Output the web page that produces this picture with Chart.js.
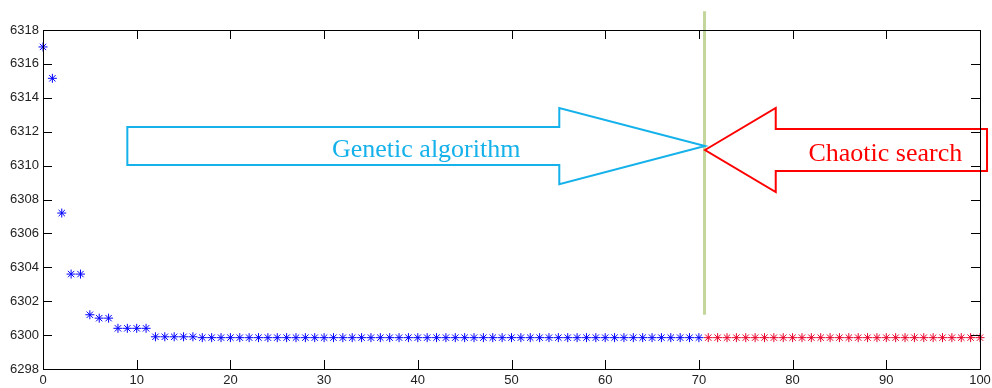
<!DOCTYPE html>
<html>
<head>
<meta charset="utf-8">
<script src="https://cdn.jsdelivr.net/npm/chart.js@4/dist/chart.umd.min.js"></script>
<style>
  html, body { margin: 0; padding: 0; background: #fff; }
  #wrap { width: 992px; height: 388px; position: relative; }
</style>
</head>
<body>
<div id="wrap"><canvas id="c"></canvas></div>
<script>
// Objective value per iteration: genetic algorithm stage (iterations 0..70)
const gaFitness = [
  6317.0, 6315.15, 6307.2, 6303.6, 6303.6, 6301.2, 6301.0, 6301.0, 6300.4, 6300.4,
  6300.4, 6300.4, 6299.9, 6299.9, 6299.9, 6299.9, 6299.9, 6299.85, 6299.85, 6299.85,
  6299.85, 6299.85, 6299.85, 6299.85, 6299.85, 6299.85, 6299.85, 6299.85, 6299.85, 6299.85,
  6299.85, 6299.85, 6299.85, 6299.85, 6299.85, 6299.85, 6299.85, 6299.85, 6299.85, 6299.85,
  6299.85, 6299.85, 6299.85, 6299.85, 6299.85, 6299.85, 6299.85, 6299.85, 6299.85, 6299.85,
  6299.85, 6299.85, 6299.85, 6299.85, 6299.85, 6299.85, 6299.85, 6299.85, 6299.85, 6299.85,
  6299.85, 6299.85, 6299.85, 6299.85, 6299.85, 6299.85, 6299.85, 6299.85, 6299.85, 6299.85,
  6299.85
];
const gaStart = 0;

// Chaotic search stage (iterations 71..100)
const csFitness = [
  6299.85, 6299.85, 6299.85, 6299.85, 6299.85, 6299.85, 6299.85, 6299.85, 6299.85, 6299.85,
  6299.85, 6299.85, 6299.85, 6299.85, 6299.85, 6299.85, 6299.85, 6299.85, 6299.85, 6299.85,
  6299.85, 6299.85, 6299.85, 6299.85, 6299.85, 6299.85, 6299.85, 6299.85, 6299.85, 6299.85
];
const csStart = 71;

// Axis ranges and tick steps
const xTicks = [0, 10, 20, 30, 40, 50, 60, 70, 80, 90, 100];
const yTicks = [6298, 6300, 6302, 6304, 6306, 6308, 6310, 6312, 6314, 6316, 6318];

// Stage switch marker and the two labelled arrows (data units)
const switchLine = { x: 70.6, yTop: 6319.1, yBottom: 6301.2 };
const gaArrow = {
  label: 'Genetic algorithm',
  points: [[9, 6312.28], [55.1, 6312.28], [55.1, 6313.4], [70.65, 6311.16],
           [55.1, 6308.9], [55.1, 6310.04], [9, 6310.04]],
  text: [40.9, 6310.5]
};
const csArrow = {
  label: 'Chaotic search',
  points: [[70.65, 6310.92], [78.2, 6313.4], [78.2, 6312.16], [100.75, 6312.16],
           [100.75, 6309.68], [78.2, 6309.68], [78.2, 6308.44]],
  text: [89.9, 6310.27]
};

const toPoints = (arr, start) => arr.map((v, i) => ({ x: start + i, y: v }));

const overlay = {
  id: 'overlay',
  beforeDatasetsDraw(chart) {
    const { ctx, scales: { x, y } } = chart;
    ctx.save();
    // stage switch line
    ctx.strokeStyle = '#c3d69b';
    ctx.lineWidth = 3;
    ctx.beginPath();
    const sx = x.getPixelForValue(switchLine.x);
    ctx.moveTo(sx, y.getPixelForValue(switchLine.yTop));
    ctx.lineTo(sx, y.getPixelForValue(switchLine.yBottom));
    ctx.stroke();

    const drawArrow = (a, color) => {
      ctx.strokeStyle = color;
      ctx.lineWidth = 2;
      ctx.lineJoin = 'miter';
      ctx.beginPath();
      a.points.forEach(([px, py], i) => {
        const X = x.getPixelForValue(px), Y = y.getPixelForValue(py);
        if (i === 0) ctx.moveTo(X, Y); else ctx.lineTo(X, Y);
      });
      ctx.closePath();
      ctx.stroke();
      ctx.fillStyle = color;
      ctx.font = '26px "Liberation Serif", "Times New Roman", serif';
      ctx.textAlign = 'center';
      ctx.textBaseline = 'alphabetic';
      ctx.fillText(a.label, x.getPixelForValue(a.text[0]), y.getPixelForValue(a.text[1]));
    };
    drawArrow(gaArrow, '#14b1ea');
    drawArrow(csArrow, '#ff0000');
    ctx.restore();
  },
  afterDraw(chart) {
    const { ctx, chartArea: a, scales: { x, y } } = chart;
    ctx.save();
    ctx.strokeStyle = '#000';
    ctx.lineWidth = 1;
    ctx.beginPath();
    ctx.rect(Math.round(a.left) + 0.5, Math.round(a.top) + 0.5,
             Math.round(a.right - a.left), Math.round(a.bottom - a.top));
    ctx.stroke();
    const len = 9;
    ctx.beginPath();
    xTicks.forEach(v => {
      const X = Math.round(x.getPixelForValue(v)) + 0.5;
      ctx.moveTo(X, a.bottom); ctx.lineTo(X, a.bottom - len);
      ctx.moveTo(X, a.top); ctx.lineTo(X, a.top + len);
    });
    yTicks.forEach(v => {
      const Y = Math.round(y.getPixelForValue(v)) + 0.5;
      ctx.moveTo(a.left, Y); ctx.lineTo(a.left + len, Y);
      ctx.moveTo(a.right, Y); ctx.lineTo(a.right - len, Y);
    });
    ctx.stroke();
    ctx.restore();
  }
};

new Chart(document.getElementById('c'), {
  type: 'scatter',
  data: {
    datasets: [
      {
        label: 'Genetic algorithm',
        data: toPoints(gaFitness, gaStart),
        pointStyle: 'star',
        pointRadius: 4.5,
        borderColor: '#0000ff',
        backgroundColor: '#0000ff',
        borderWidth: 1,
        showLine: false,
        clip: false
      },
      {
        label: 'Chaotic search',
        data: toPoints(csFitness, csStart),
        pointStyle: 'star',
        pointRadius: 4.5,
        borderColor: '#e8002a',
        backgroundColor: '#e8002a',
        borderWidth: 1,
        showLine: false,
        clip: false
      }
    ]
  },
  options: {
    responsive: true,
    maintainAspectRatio: false,
    animation: false,
    events: [],
    layout: { autoPadding: false, padding: { top: 30, right: 12, left: 0, bottom: 0 } },
    plugins: { legend: { display: false }, tooltip: { enabled: false } },
    scales: {
      x: {
        type: 'linear',
        min: 0, max: 100,
        afterFit(s) { s.height = 19; s.paddingLeft = 0; s.paddingRight = 0; },
        afterBuildTicks(s) { s.ticks = xTicks.map(v => ({ value: v })); },
        grid: { display: false, drawTicks: false },
        border: { display: true, color: '#000' },
        ticks: {
          padding: 4,
          color: '#222',
          font: { family: '"Liberation Sans", Arial, sans-serif', size: 13 },
          maxRotation: 0
        }
      },
      y: {
        type: 'linear',
        min: 6298, max: 6318,
        afterFit(s) { s.width = 43; s.paddingTop = 0; s.paddingBottom = 0; },
        afterBuildTicks(s) { s.ticks = yTicks.map(v => ({ value: v })); },
        grid: { display: false, drawTicks: false },
        border: { display: true, color: '#000' },
        ticks: {
          padding: 4,
          color: '#222',
          font: { family: '"Liberation Sans", Arial, sans-serif', size: 13 },
          callback: v => String(v)
        }
      }
    }
  },
  plugins: [overlay]
});
</script>
</body>
</html>
